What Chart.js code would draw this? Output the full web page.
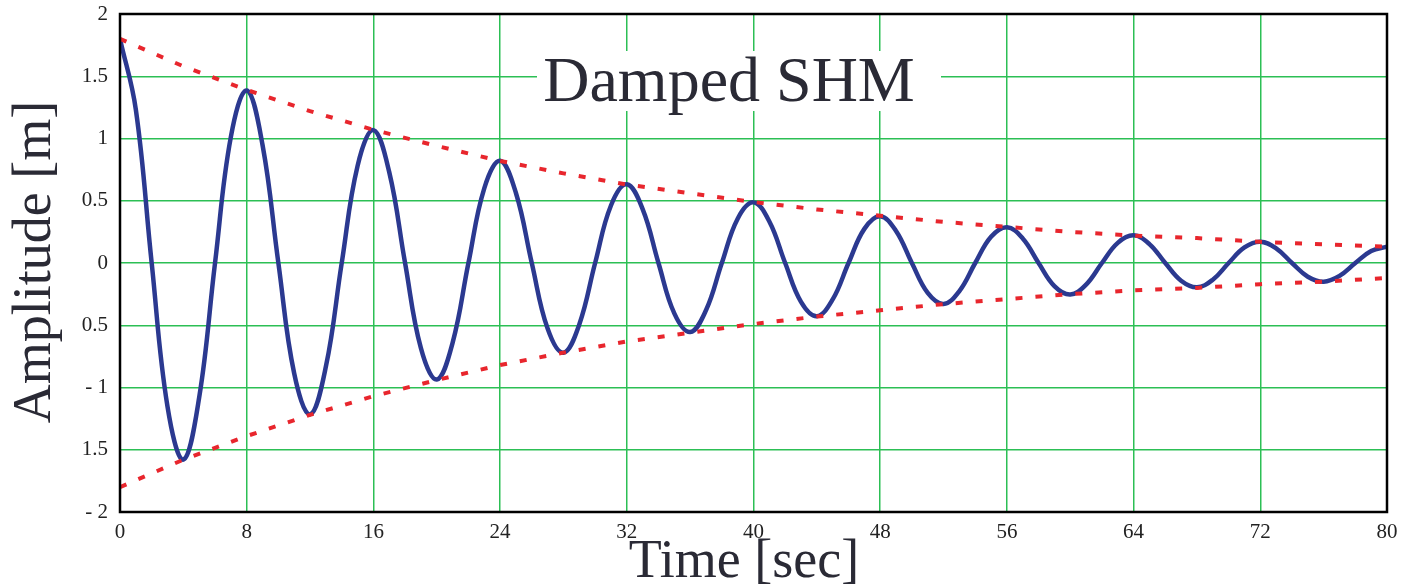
<!DOCTYPE html>
<html>
<head>
<meta charset="utf-8">
<script src="https://cdn.jsdelivr.net/npm/chart.js@4/dist/chart.umd.min.js"></script>
<style>
  html, body { margin: 0; padding: 0; background: #fff; }
  canvas { display: block; }
</style>
</head>
<body>
<canvas id="shm" width="1402" height="588"></canvas>
<script>
// data
const times = [0, 1, 2, 3, 4, 5, 6, 7, 8, 9, 10, 11, 12, 13, 14, 15, 16, 17, 18, 19, 20,
  21, 22, 23, 24, 25, 26, 27, 28, 29, 30, 31, 32, 33, 34, 35, 36, 37, 38, 39, 40,
  41, 42, 43, 44, 45, 46, 47, 48, 49, 50, 51, 52, 53, 54, 55, 56, 57, 58, 59, 60,
  61, 62, 63, 64, 65, 66, 67, 68, 69, 70, 71, 72, 73, 74, 75, 76, 77, 78, 79, 80];
const amplitude = [1.80, 1.232, 0, -1.154, -1.579, -1.080, 0, 1.013, 1.386, 0.948, 0,
  -0.888, -1.216, -0.832, 0, 0.779, 1.067, 0.730, 0, -0.684, -0.936,
  -0.641, 0, 0.600, 0.821, 0.562, 0, -0.527, -0.721, -0.493, 0,
  0.462, 0.632, 0.433, 0, -0.405, -0.555, -0.380, 0, 0.356, 0.487,
  0.333, 0, -0.312, -0.427, -0.292, 0, 0.274, 0.375, 0.257, 0,
  -0.240, -0.329, -0.225, 0, 0.211, 0.288, 0.197, 0, -0.185, -0.253,
  -0.173, 0, 0.162, 0.222, 0.152, 0, -0.142, -0.195, -0.134, 0,
  0.125, 0.171, 0.117, 0, -0.110, -0.150, -0.103, 0, 0.096, 0.132];

const envTimes = [0, 4, 8, 12, 16, 20, 24, 28, 32, 36, 40, 44, 48, 52, 56, 60, 64, 68, 72, 76, 80];
const envUpper = [1.80, 1.58, 1.39, 1.22, 1.07, 0.94, 0.82, 0.72, 0.63, 0.56, 0.49,
  0.43, 0.38, 0.33, 0.29, 0.25, 0.22, 0.20, 0.17, 0.15, 0.13];
const envLower = [-1.80, -1.58, -1.39, -1.22, -1.07, -0.94, -0.82, -0.72, -0.63, -0.56, -0.49,
  -0.43, -0.38, -0.33, -0.29, -0.25, -0.22, -0.20, -0.17, -0.15, -0.12];

const xTicks = [0, 8, 16, 24, 32, 40, 48, 56, 64, 72, 80];
const yTicks = [2, 1.5, 1, 0.5, 0, -0.5, -1, -1.5, -2];
const yTickLabels = ["2", "1.5", "1", "0.5", "0", "0.5", "- 1", "1.5", "- 2"];

const SERIF = "'Liberation Serif', 'DejaVu Serif', serif";
const GREEN = "#2cbf55";

function pairs(xs, ys) {
  return xs.map((x, i) => ({ x: x, y: ys[i] }));
}

// white-boxed title, frame and axis titles
const decor = {
  id: "decor",
  beforeDatasetsDraw(chart) {
    const ctx = chart.ctx;
    ctx.save();
    ctx.fillStyle = "#fff";
    ctx.fillRect(537, 51, 404, 60);
    ctx.fillStyle = "#2a2a35";
    ctx.font = "64px " + SERIF;
    ctx.textAlign = "center";
    ctx.textBaseline = "alphabetic";
    ctx.fillText("Damped SHM", 729, 101);
    ctx.restore();
  },
  afterDraw(chart) {
    const ctx = chart.ctx;
    const a = chart.chartArea;
    ctx.save();
    ctx.strokeStyle = "#000";
    ctx.lineWidth = 2.5;
    ctx.strokeRect(a.left, a.top, a.right - a.left, a.bottom - a.top);

    ctx.fillStyle = "#2a2a35";
    ctx.font = "54px " + SERIF;
    ctx.textAlign = "center";
    ctx.textBaseline = "alphabetic";
    ctx.fillText("Time [sec]", 744, 577);

    ctx.translate(50, 262);
    ctx.rotate(-Math.PI / 2);
    ctx.fillText("Amplitude [m]", 0, 0);
    ctx.restore();
  }
};

new Chart(document.getElementById("shm"), {
  type: "line",
  data: {
    datasets: [
      {
        label: "upper",
        data: pairs(envTimes, envUpper),
        borderColor: "#e8262d",
        borderWidth: 4,
        borderDash: [7, 13],
        pointRadius: 0,
        tension: 0
      },
      {
        label: "lower",
        data: pairs(envTimes, envLower),
        borderColor: "#e8262d",
        borderWidth: 4,
        borderDash: [7, 13],
        pointRadius: 0,
        tension: 0
      },
      {
        label: "x(t)",
        data: pairs(times, amplitude),
        borderColor: "#2b3990",
        borderWidth: 4.5,
        pointRadius: 0,
        tension: 0.4
      }
    ]
  },
  options: {
    responsive: false,
    animation: false,
    layout: { padding: { top: 14, right: 15, left: 0, bottom: 0 } },
    plugins: {
      legend: { display: false },
      tooltip: { enabled: false }
    },
    scales: {
      x: {
        type: "linear",
        min: 0,
        max: 80,
        afterFit: (s) => { s.height = 76; s.paddingLeft = 0; s.paddingRight = 0; },
        afterBuildTicks: (s) => { s.ticks = xTicks.map((v) => ({ value: v })); },
        grid: { color: GREEN, lineWidth: 1.5, drawTicks: false },
        border: { display: false },
        ticks: {
          padding: 8,
          color: "#222",
          font: { family: SERIF, size: 21 },
          callback: (v) => String(v)
        }
      },
      y: {
        min: -2,
        max: 2,
        afterFit: (s) => { s.width = 120; s.paddingTop = 0; s.paddingBottom = 0; },
        afterBuildTicks: (s) => { s.ticks = yTicks.map((v) => ({ value: v })); },
        grid: { color: GREEN, lineWidth: 1.5, drawTicks: false },
        border: { display: false },
        ticks: {
          padding: 12,
          color: "#222",
          font: { family: SERIF, size: 21 },
          callback: (v) => yTickLabels[yTicks.indexOf(v)]
        }
      }
    }
  },
  plugins: [decor]
});
</script>
</body>
</html>
